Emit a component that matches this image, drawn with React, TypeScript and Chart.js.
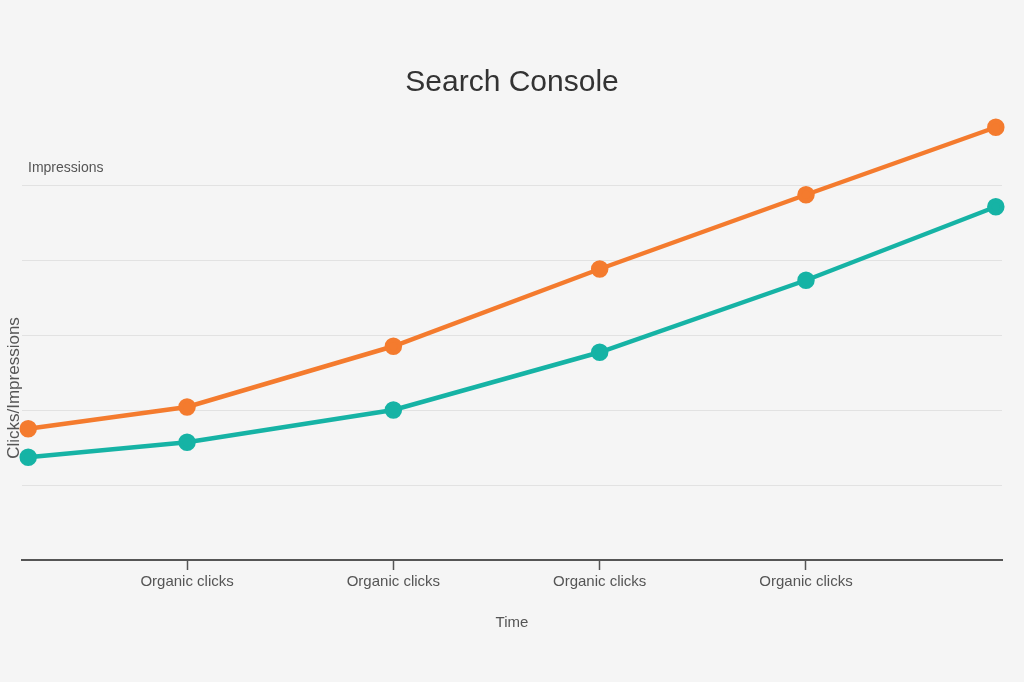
import React, { useEffect, useRef } from "react";
import { Chart, registerables } from "chart.js";

Chart.register(...registerables);

const chartTitle = "Search Console";
const xAxisTitle = "Time";
const yAxisTitle = "Clicks/Impressions";
const topLabel = "Impressions";
const tickPositions = [1, 2, 3, 4];
const tickLabels = ["Organic clicks", "Organic clicks", "Organic clicks", "Organic clicks"];
const pointX = [0.23, 1, 2, 3, 4, 4.92];
const impressions = [1.75, 2.04, 2.85, 3.88, 4.87, 5.77];
const clicks = [1.37, 1.57, 2.0, 2.77, 3.73, 4.71];
const gridValues = [1, 2, 3, 4, 5];

const FONT = "'Liberation Sans', Arial, sans-serif";

const textPlugin = {
  id: "extraText",
  afterDraw(chart: any) {
    const ctx = chart.ctx;
    const area = chart.chartArea;
    ctx.save();
    ctx.fillStyle = "#555";
    ctx.font = `14px ${FONT}`;
    ctx.textAlign = "left";
    ctx.textBaseline = "middle";
    ctx.fillText(topLabel, area.left + 6, 168);
    ctx.font = `17px ${FONT}`;
    ctx.translate(14, 388);
    ctx.rotate(-Math.PI / 2);
    ctx.textAlign = "center";
    ctx.fillText(yAxisTitle, 0, 0);
    ctx.restore();
  },
};

export default function App() {
  const ref = useRef<HTMLCanvasElement>(null);
  useEffect(() => {
    document.body.style.margin = "0";
    const chart = new Chart(ref.current!, {
      type: "line",
      data: {
        datasets: [
          {
            label: "Impressions",
            data: pointX.map((x, i) => ({ x, y: impressions[i] })),
            borderColor: "#F47B2E",
            backgroundColor: "#F47B2E",
            borderWidth: 4.5,
            pointRadius: 6.5,
            pointHoverRadius: 6.5,
            tension: 0,
          },
          {
            label: "Clicks",
            data: pointX.map((x, i) => ({ x, y: clicks[i] })),
            borderColor: "#16B3A5",
            backgroundColor: "#16B3A5",
            borderWidth: 4.5,
            pointRadius: 6.5,
            pointHoverRadius: 6.5,
            tension: 0,
          },
        ],
      },
      options: {
        animation: false,
        responsive: false,
        clip: false as any,
        layout: { padding: { top: 65, left: 22, right: 22, bottom: 50 } },
        plugins: {
          legend: { display: false },
          tooltip: { enabled: false },
          title: {
            display: true,
            text: chartTitle,
            color: "#333",
            font: { family: FONT, size: 30, weight: "normal" },
            padding: { top: 0, bottom: 9 },
          },
        },
        scales: {
          x: {
            type: "linear",
            min: 0.2,
            max: 4.95,
            afterBuildTicks: (axis: any) => {
              axis.ticks = tickPositions.map((v) => ({ value: v }));
            },
            ticks: {
              color: "#555",
              font: { family: FONT, size: 15 },
              padding: 3,
              maxRotation: 0,
              autoSkip: false,
              callback: (value: any) => {
                const i = tickPositions.indexOf(Number(value));
                return i >= 0 ? tickLabels[i] : "";
              },
            },
            grid: {
              drawOnChartArea: false,
              drawTicks: true,
              tickLength: 10,
              tickColor: "#555",
              tickWidth: 1.5,
            },
            border: { display: true, color: "#555", width: 2 },
            title: {
              display: true,
              text: xAxisTitle,
              color: "#555",
              font: { family: FONT, size: 15 },
              padding: { top: 20, bottom: 0 },
            },
          },
          y: {
            min: 0,
            max: 6,
            afterBuildTicks: (axis: any) => {
              axis.ticks = gridValues.map((v) => ({ value: v }));
            },
            ticks: { display: false },
            grid: { color: "#e2e2e2", lineWidth: 1, drawTicks: false },
            border: { display: false },
          },
        },
      },
      plugins: [textPlugin],
    });
    return () => chart.destroy();
  }, []);
  return (
    <div style={{ position: "fixed", left: 0, top: 0, width: 1024, height: 682, background: "#f5f5f5" }}>
      <canvas ref={ref} width={1024} height={682} style={{ width: 1024, height: 682 }} />
    </div>
  );
}
